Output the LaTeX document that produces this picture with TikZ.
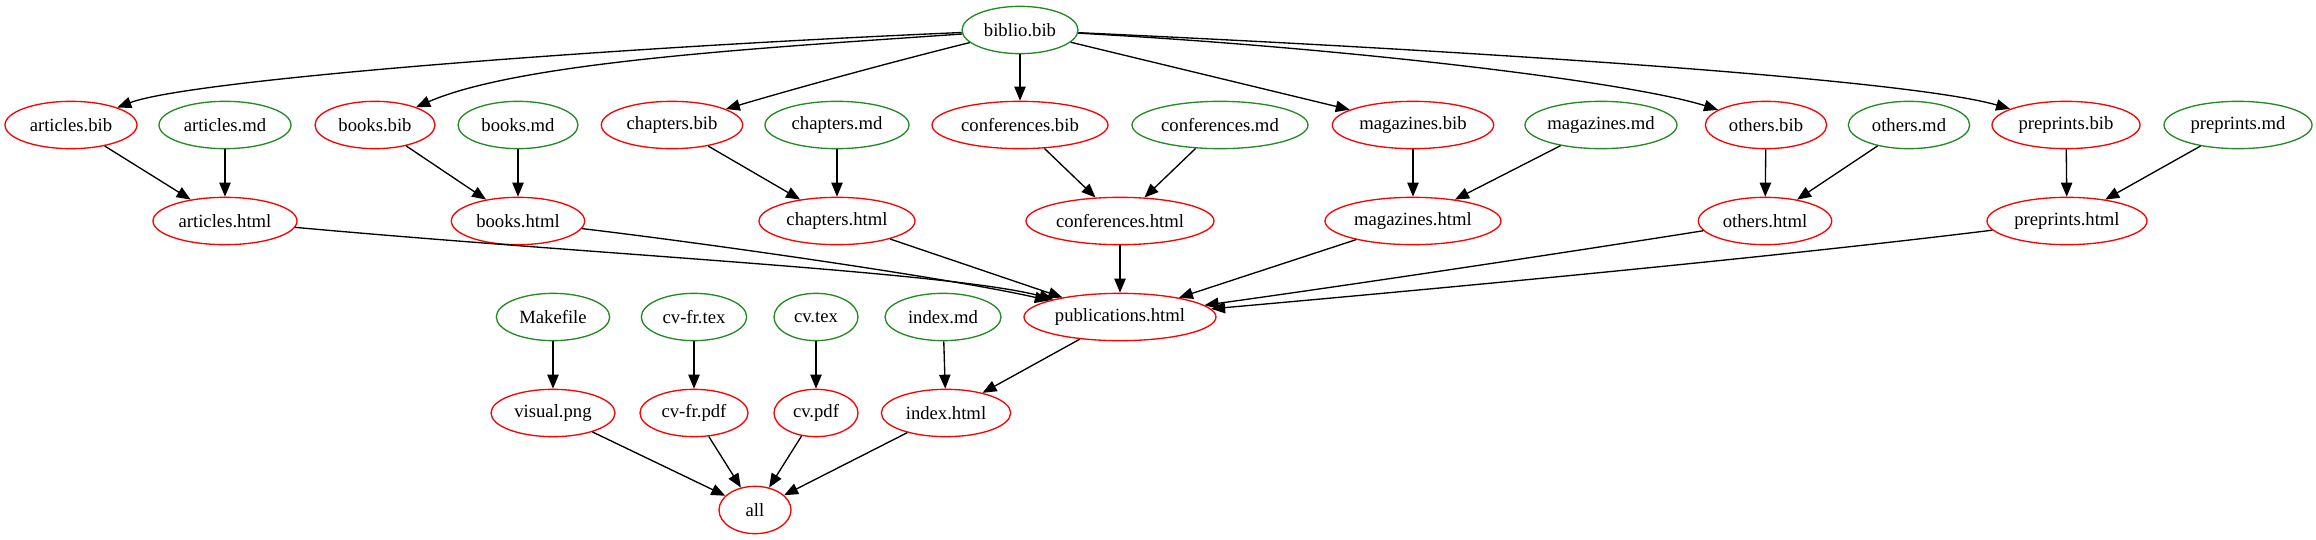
\documentclass[tikz,border=0pt]{standalone}
\usepackage{fontspec}
\setmainfont{Liberation Serif}
\usetikzlibrary{shapes.geometric,arrows.meta}
\definecolor{fgreen}{HTML}{228B22}
\tikzset{
  nd/.style={ellipse, inner sep=0pt, minimum height=35.5pt, line width=1pt, font=\fontsize{14}{16}\selectfont},
  src/.style={nd, draw=fgreen},
  tgt/.style={nd, draw=red},
  e/.style={line width=1pt, -{Triangle[length=10.5pt,width=8.5pt]}},
}
\begin{document}
\begin{tikzpicture}[x=0.75pt,y=-0.75pt]
\useasboundingbox (0,0) rectangle (2316,539);
% row 1
\node[src, minimum width=87pt] (biblio) at (1020,30) {biblio.bib};
% row 2
\node[tgt, minimum width=99pt] (artbib) at (71,125) {articles.bib};
\node[src, minimum width=99pt] (artmd) at (225,125) {articles.md};
\node[tgt, minimum width=90pt] (bookbib) at (375,125) {books.bib};
\node[src, minimum width=90pt] (bookmd) at (518,125) {books.md};
\node[tgt, minimum width=106pt] (chapbib) at (672,125) {chapters.bib};
\node[src, minimum width=108pt] (chapmd) at (837,125) {chapters.md};
\node[tgt, minimum width=132pt] (confbib) at (1020,125) {conferences.bib};
\node[src, minimum width=132pt] (confmd) at (1220,125) {conferences.md};
\node[tgt, minimum width=121pt] (magbib) at (1413,125) {magazines.bib};
\node[src, minimum width=114pt] (magmd) at (1601,125) {magazines.md};
\node[tgt, minimum width=91pt] (othbib) at (1766,125) {others.bib};
\node[src, minimum width=91pt] (othmd) at (1909,125) {others.md};
\node[tgt, minimum width=111pt] (prebib) at (2066,125) {preprints.bib};
\node[src, minimum width=111pt] (premd) at (2238,125) {preprints.md};
% row 3
\node[tgt, minimum width=108pt] (arthtml) at (225,221) {articles.html};
\node[tgt, minimum width=100pt] (bookhtml) at (518,221) {books.html};
\node[tgt, minimum width=117pt] (chaphtml) at (837,221) {chapters.html};
\node[tgt, minimum width=141pt] (confhtml) at (1120,221) {conferences.html};
\node[tgt, minimum width=132pt] (maghtml) at (1413,221) {magazines.html};
\node[tgt, minimum width=100pt] (othhtml) at (1765,221) {others.html};
\node[tgt, minimum width=120pt] (prehtml) at (2067,221) {preprints.html};
% row 4
\node[src, minimum width=85pt] (makefile) at (553,317) {Makefile};
\node[src, minimum width=79pt] (cvfrtex) at (694,317) {cv-fr.tex};
\node[src, minimum width=63pt] (cvtex) at (816,317) {cv.tex};
\node[src, minimum width=87pt] (indexmd) at (943,317) {index.md};
\node[tgt, minimum width=144pt] (pub) at (1120,317) {publications.html};
% row 5
\node[tgt, minimum width=93pt] (visual) at (553,413) {visual.png};
\node[tgt, minimum width=81pt] (cvfrpdf) at (694,413) {cv-fr.pdf};
\node[tgt, minimum width=63pt] (cvpdf) at (816,413) {cv.pdf};
\node[tgt, minimum width=97pt] (indexhtml) at (946,413) {index.html};
% row 6
\node[tgt, minimum width=54pt] (all) at (755,510) {all};
% edges from biblio
\draw[e] (biblio) .. controls (600,48) and (190,80) .. (artbib);
\draw[e] (biblio) .. controls (760,48) and (520,62) .. (bookbib);
\draw[e] (biblio) .. controls (880,65) and (790,90) .. (chapbib);
\draw[e] (biblio) -- (confbib);
\draw[e] (biblio) -- (magbib);
\draw[e] (biblio) .. controls (1350,48) and (1630,82) .. (othbib);
\draw[e] (biblio) .. controls (1500,52) and (1910,80) .. (prebib);
% row 2 -> row 3
\draw[e] (artbib) -- (arthtml);
\draw[e] (artmd) -- (arthtml);
\draw[e] (bookbib) -- (bookhtml);
\draw[e] (bookmd) -- (bookhtml);
\draw[e] (chapbib) -- (chaphtml);
\draw[e] (chapmd) -- (chaphtml);
\draw[e] (confbib) -- (confhtml);
\draw[e] (confmd) -- (confhtml);
\draw[e] (magbib) -- (maghtml);
\draw[e] (magmd) -- (maghtml);
\draw[e] (othbib) -- (othhtml);
\draw[e] (othmd) -- (othhtml);
\draw[e] (prebib) -- (prehtml);
\draw[e] (premd) -- (prehtml);
% row 3 -> publications
\draw[e] (arthtml) .. controls (600,255) and (950,272) .. (pub);
\draw[e] (bookhtml) .. controls (720,245) and (960,280) .. (pub);
\draw[e] (chaphtml) -- (pub);
\draw[e] (confhtml) -- (pub);
\draw[e] (maghtml) -- (pub);
\draw[e] (othhtml) .. controls (1550,255) and (1350,285) .. (pub);
\draw[e] (prehtml) .. controls (1750,260) and (1400,292) .. (pub);
% lower part
\draw[e] (pub) -- (indexhtml);
\draw[e] (indexmd) -- (indexhtml);
\draw[e] (makefile) -- (visual);
\draw[e] (cvfrtex) -- (cvfrpdf);
\draw[e] (cvtex) -- (cvpdf);
\draw[e] (visual) -- (all);
\draw[e] (cvfrpdf) -- (all);
\draw[e] (cvpdf) -- (all);
\draw[e] (indexhtml) -- (all);
\end{tikzpicture}
\end{document}
